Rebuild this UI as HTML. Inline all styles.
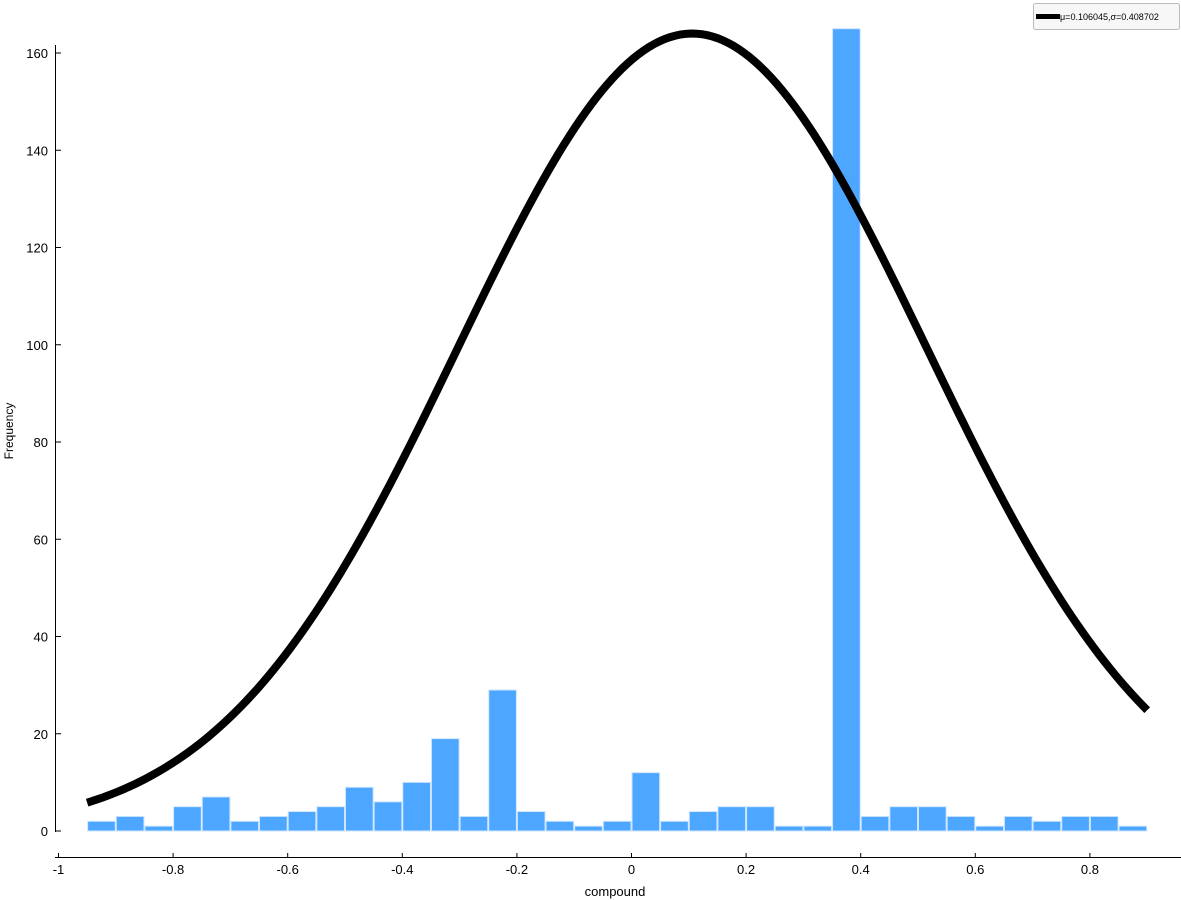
<!DOCTYPE html>
<html><head><meta charset="utf-8"><style>
body{margin:0;background:#fff;}
svg{display:block;font-family:"Liberation Sans",sans-serif;}
</style></head><body>
<svg id="chart" width="1181" height="900">
<g id="bars"></g>
<path id="curve" fill="none" stroke="#000" stroke-width="8"/>
<line x1="55.5" y1="45" x2="55.5" y2="832" stroke="#000"/>
<line x1="55" y1="857.5" x2="1181" y2="857.5" stroke="#000"/>
<g id="yticks"></g>
<g id="xticks"></g>
<text x="615" y="896" font-size="13" text-anchor="middle">compound</text>
<text transform="translate(13,431) rotate(-90)" font-size="12" text-anchor="middle">Frequency</text>
<g>
<rect x="1033.5" y="3.5" width="146" height="26" rx="2" fill="#f7f7f7" stroke="#bbb"/>
<line x1="1036" y1="16.5" x2="1060" y2="16.5" stroke="#000" stroke-width="5"/>
<text x="1060" y="20" font-size="9">μ=0.106045,σ=0.408702</text>
</g>
</svg>
<script>
const binStarts=[-0.95,-0.9,-0.85,-0.8,-0.75,-0.7,-0.65,-0.6,-0.55,-0.5,-0.45,-0.4,-0.35,-0.3,-0.25,-0.2,-0.15,-0.1,-0.05,0,0.05,0.1,0.15,0.2,0.25,0.3,0.35,0.4,0.45,0.5,0.55,0.6,0.65,0.7,0.75,0.8,0.85];
const counts=[2,3,1,5,7,2,3,4,5,9,6,10,19,3,29,4,2,1,2,12,2,4,5,5,1,1,165,3,5,5,3,1,3,2,3,3,1];
const binWidth=0.05;
const fitMu=[0.106045];
const fitSigma=[0.408702];
const fitPeak=[164];
const fitRange=[-0.95,0.9];
const yTicks=[0,20,40,60,80,100,120,140,160];
const xTicks=[-1,-0.8,-0.6,-0.4,-0.2,0,0.2,0.4,0.6,0.8];
const xTickLabels=["-1","-0.8","-0.6","-0.4","-0.2","0","0.2","0.4","0.6","0.8"];
const NS="http://www.w3.org/2000/svg";
const X=v=>58.5+(v+1)*573;
const Y=v=>831-v*4.8625;
const bars=document.getElementById('bars');
binStarts.forEach((b,i)=>{
 const r=document.createElementNS(NS,'rect');
 
 
 r.setAttribute('x',X(b)+0.5);r.setAttribute('width',X(b+binWidth)-X(b)-1);
 r.setAttribute('y',Y(counts[i]));r.setAttribute('height',Y(0)-Y(counts[i]));
 r.setAttribute('fill','#4da6ff');r.setAttribute('stroke','#cfe6ff');r.setAttribute('stroke-width','1');
 bars.appendChild(r);
});
let d='';
for(let k=0;k<=200;k++){
 const x=fitRange[0]+(fitRange[1]-fitRange[0])*k/200;
 const y=fitPeak[0]*Math.exp(-Math.pow(x-fitMu[0],2)/(2*fitSigma[0]*fitSigma[0]));
 d+=(k?'L':'M')+X(x).toFixed(2)+','+Y(y).toFixed(2);
}
document.getElementById('curve').setAttribute('d',d);
const yt=document.getElementById('yticks');
yTicks.forEach(v=>{
 const l=document.createElementNS(NS,'line');
 
 
 l.setAttribute('x1',55.5);l.setAttribute('x2',61);l.setAttribute('y1',Y(v));l.setAttribute('y2',Y(v));l.setAttribute('stroke','#000');
 yt.appendChild(l);
 const t=document.createElementNS(NS,'text');
 
 
 t.setAttribute('x',48);t.setAttribute('y',Y(v)+5);t.setAttribute('font-size','13');t.setAttribute('text-anchor','end');
 t.textContent=v;yt.appendChild(t);
});
const xt=document.getElementById('xticks');
xTicks.forEach((v,i)=>{
 const l=document.createElementNS(NS,'line');
 
 
 l.setAttribute('x1',X(v));l.setAttribute('x2',X(v));l.setAttribute('y1',853);l.setAttribute('y2',857.5);l.setAttribute('stroke','#000');
 xt.appendChild(l);
 const t=document.createElementNS(NS,'text');
 
 
 t.setAttribute('x',X(v));t.setAttribute('y',874);t.setAttribute('font-size','13');t.setAttribute('text-anchor','middle');
 t.textContent=xTickLabels[i];xt.appendChild(t);
});
</script>
</body></html>
